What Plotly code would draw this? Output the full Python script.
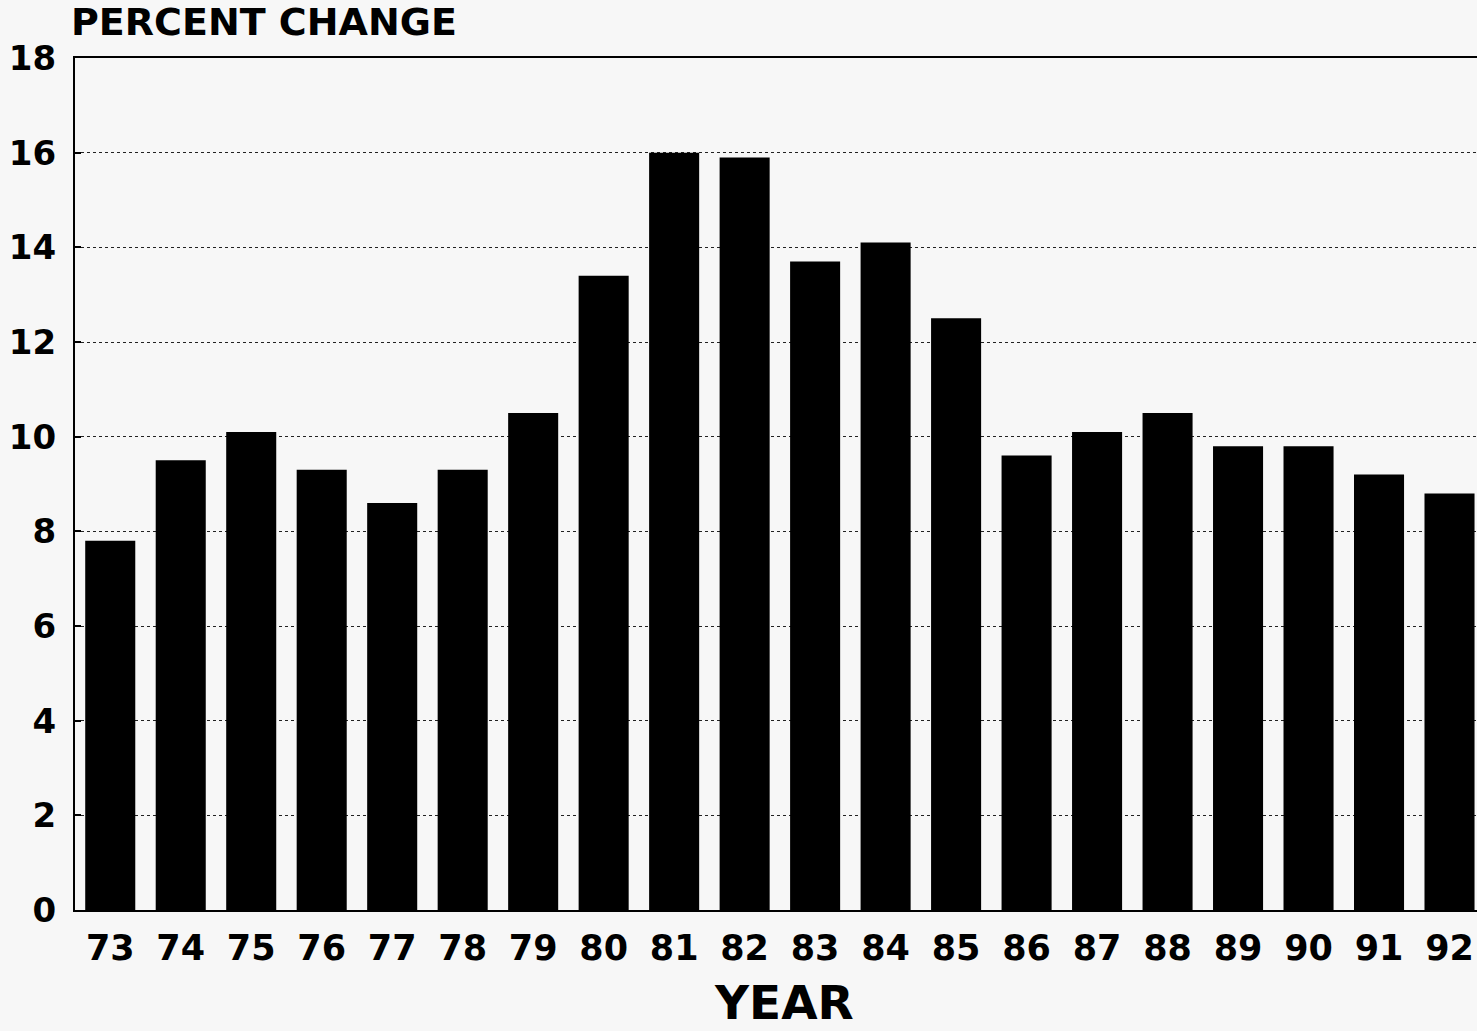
import plotly.graph_objects as go

years = ["73", "74", "75", "76", "77", "78", "79", "80", "81", "82",
         "83", "84", "85", "86", "87", "88", "89", "90", "91", "92"]
percent_change = [7.8, 9.5, 10.1, 9.3, 8.6, 9.3, 10.5, 13.4, 16.0, 15.9,
                  13.7, 14.1, 12.5, 9.6, 10.1, 10.5, 9.8, 9.8, 9.2, 8.8]
y_ticks = [0, 2, 4, 6, 8, 10, 12, 14, 16, 18]

FONT = "DejaVu Sans"
BG = "#f7f7f7"

fig = go.Figure()
fig.add_trace(go.Bar(
    x=list(range(len(years))),
    y=percent_change,
    marker=dict(color="black", line=dict(width=0)),
    width=0.71,
))

fig.update_layout(
    width=1477, height=1031,
    margin=dict(l=75, r=0, t=58, b=121),
    paper_bgcolor=BG, plot_bgcolor=BG,
    showlegend=False,
    font=dict(family=FONT, color="black"),
    bargap=0.29,
)

fig.update_xaxes(
    range=[-0.5, 19.39],
    tickmode="array",
    tickvals=list(range(len(years))),
    ticktext=years,
    tickfont=dict(family=FONT, size=35, color="black", weight="bold"),
    ticks="", ticklabelstandoff=6,
    showgrid=False, zeroline=False,
    showline=True, linecolor="black", linewidth=2, mirror=True,
)

fig.update_yaxes(
    range=[0, 18],
    tickmode="array",
    tickvals=y_ticks,
    ticktext=[str(v) for v in y_ticks],
    tickfont=dict(family=FONT, size=34, color="black", weight="bold"),
    ticks="inside", ticklen=6, tickwidth=2, tickcolor="black",
    ticklabelstandoff=10,
    showgrid=True, gridcolor="#222222", gridwidth=1, griddash="dot",
    zeroline=False,
    showline=True, linecolor="black", linewidth=2,
)

fig.add_annotation(
    text="PERCENT CHANGE", xref="paper", yref="paper",
    x=-0.004, y=1.042, xanchor="left", yanchor="middle",
    showarrow=False,
    font=dict(family=FONT, size=38, color="black", weight="bold"),
)
fig.add_annotation(
    text="YEAR", xref="paper", yref="paper",
    x=0.506, y=-0.108, xanchor="center", yanchor="middle",
    showarrow=False,
    font=dict(family=FONT, size=47, color="black", weight="bold"),
)

fig.write_html(
    "out.html",
    config={"displayModeBar": False},
    post_script="document.body.style.margin='0';"
                "document.body.style.overflow='hidden';"
                "document.body.style.background='#f7f7f7';",
)
